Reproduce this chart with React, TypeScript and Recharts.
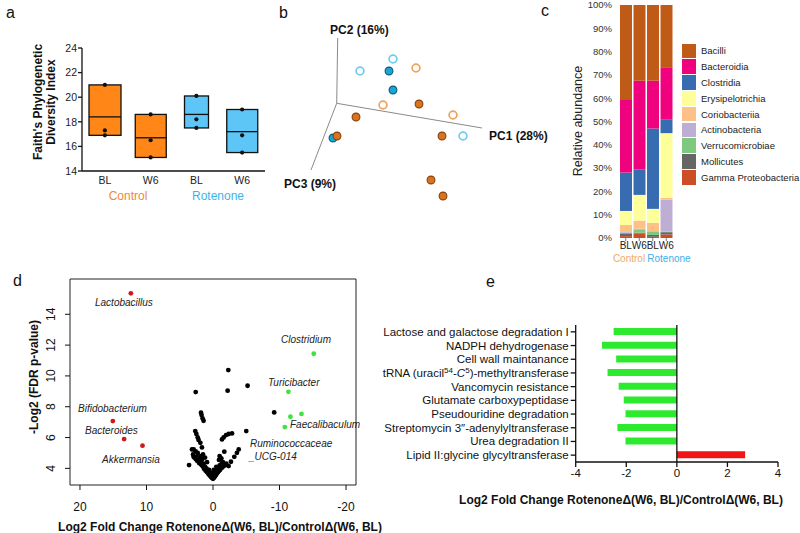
import React from 'react';
import {
  ComposedChart,
  BarChart,
  ScatterChart,
  Bar,
  Scatter,
  XAxis,
  YAxis,
  ReferenceLine,
  ReferenceArea,
  Cell,
} from 'recharts';

const FONT = '"Liberation Sans", Arial, Helvetica, sans-serif';

// ---------- a: Faith's phylogenetic diversity ----------
const pdLabels = ['BL', 'W6', 'BL', 'W6'];
const pdMin = [16.9, 15.1, 17.5, 15.5];
const pdMax = [21.0, 18.6, 20.1, 19.0];
const pdMean = [18.4, 16.7, 18.6, 17.2];
const pdSampleHigh = [21.0, 18.6, 20.1, 19.0];
const pdSampleMid = [17.3, 16.5, 18.2, 16.9];
const pdSampleLow = [16.9, 15.1, 17.5, 15.5];
const pdTicks = [14, 16, 18, 20, 22, 24];

// ---------- b: PCoA (projected PC1/PC2/PC3) ----------
const pcaControlOpen = [
  { x: 79.3, y: 35.3 },
  { x: 46.3, y: -1.7 },
  { x: 116.3, y: -11.7 },
];
const pcaControlFilled = [
  { x: 82.3, y: -0.7 },
  { x: 19.3, y: -13.7 },
  { x: 0.3, y: -32.7 },
  { x: 105.3, y: -32.7 },
  { x: 94.3, y: -76.7 },
  { x: 106.3, y: -92.7 },
];
const pcaRotenoneOpen = [
  { x: 23.3, y: 32.3 },
  { x: 56.3, y: 44.3 },
  { x: 126.3, y: -32.7 },
];
const pcaRotenoneFilled = [
  { x: 52.3, y: 32.3 },
  { x: 56.3, y: 13.3 },
  { x: -3.7, y: -34.7 },
];

// ---------- c: relative abundance ----------
const abundanceSamples = ['BL', 'W6', 'BL', 'W6'];
const gammaProteobacteria = [0.8, 2.0, 0.5, 1.5];
const mollicutes = [1.2, 0.3, 0.8, 1.0];
const verrucomicrobiae = [0.3, 1.2, 1.5, 0.3];
const actinobacteria = [0.3, 0.5, 0.2, 13.7];
const coriobacteriia = [3.0, 3.5, 3.5, 0.8];
const erysipelotrichia = [6.0, 11.0, 6.0, 27.7];
const clostridia = [16.5, 11.0, 34.5, 6.0];
const bacteroidia = [31.5, 38.0, 20.5, 22.0];
const bacilli = [40.4, 32.5, 32.5, 27.0];
const abundanceTicks = [0, 10, 20, 30, 40, 50, 60, 70, 80, 90, 100];

// ---------- d: volcano ----------
const enrichedControl = [
  { name: 'Lactobacillus', x: 12.35, y: 15.36 },
  { name: 'Bifidobacterium', x: 15.06, y: 7.07 },
  { name: 'Bacteroides', x: 13.36, y: 5.9 },
  { name: 'Akkermansia', x: 10.6, y: 5.47 },
];
const enrichedRotenone = [
  { name: 'Clostridium', x: -15.15, y: 11.44 },
  { name: 'Turicibacter', x: -11.34, y: 8.97 },
  { name: 'Faecalibaculum', x: -11.64, y: 7.35 },
  { name: 'Faecalibaculum', x: -13.3, y: 7.53 },
  { name: 'Faecalibaculum', x: -10.8, y: 6.68 },
];
const otherGenera = [
  [2.6, 8.95], [-2.3, 10.38], [-2.2, 9.04], [-5.2, 9.36], [-9.2, 7.63], [-5.0, 6.42],
  [1.8, 7.61], [1.72, 7.46], [1.57, 7.25], [1.42, 7.09],
  [2.67, 6.42], [2.5, 6.23], [2.3, 6.01], [2.17, 5.84], [1.9, 5.66], [1.66, 5.36],
  [2.9, 5.23], [3.6, 4.21], [3.16, 5.23], [2.92, 4.75],
  [-1.35, 5.88], [-1.6, 6.01], [-1.96, 6.16], [-2.35, 6.23], [-2.86, 6.27], [-1.7, 5.08],
  [-3.86, 5.23], [-3.6, 5.01], [-3.2, 4.75], [-2.7, 4.43], [-2.35, 4.15], [-1.0, 4.8], [-1.25, 4.65],
  [3.0, 4.9], [2.8, 4.7], [2.6, 4.6], [2.4, 4.5], [2.5, 4.75], [2.2, 4.6], [2.0, 4.55],
  [2.1, 4.35], [1.9, 4.3], [1.7, 4.2], [1.8, 4.45], [1.5, 4.1], [1.4, 4.3], [1.3, 3.95],
  [1.2, 4.1], [1.1, 3.85], [1.0, 4.0], [0.9, 3.75], [0.8, 3.9], [0.7, 3.65], [0.6, 3.6],
  [0.5, 3.55], [0.4, 3.5], [0.3, 3.45], [0.2, 3.4], [0.1, 3.38], [1.6, 4.6], [1.2, 4.7],
  [2.3, 5.0], [1.9, 4.8], [0.9, 4.4], [1.5, 4.9], [2.6, 5.1],
  [-0.1, 3.38], [-0.2, 3.42], [-0.3, 3.48], [-0.4, 3.55], [-0.5, 3.62], [-0.6, 3.7],
  [-0.75, 3.75], [-0.9, 3.85], [-1.05, 3.9], [-1.2, 4.0], [-1.4, 4.05], [-1.6, 4.15],
  [-1.8, 4.2], [-2.0, 4.3], [-0.8, 4.0], [-0.6, 3.95], [-1.0, 4.2], [-0.4, 3.8],
  [-1.3, 4.3], [-0.2, 3.6], [-0.5, 4.1], [-1.5, 4.4], [-0.9, 4.55],
  [0.3, 3.7], [0.0, 3.6], [0.6, 3.9], [-0.1, 3.9], [0.0, 3.32],
];
const volcanoXTicks = [-20, -10, 0, 10, 20];
const volcanoYTicks = [4, 6, 8, 10, 12, 14];

// ---------- e: predicted pathways ----------
const pathwayNames = [
  'Lactose and galactose degradation I',
  'NADPH dehydrogenase',
  'Cell wall maintanance',
  'tRNA (uracil54-C5)-methyltransferase',
  'Vancomycin resistance',
  'Glutamate carboxypeptidase',
  'Pseudouridine degradation',
  'Streptomycin 3\u2033-adenylyltransferase',
  'Urea degradation II',
  'Lipid II:glycine glycyltransferase',
];
const pathwayLog2FC = [-2.5, -2.96, -2.4, -2.74, -2.3, -2.1, -2.03, -2.35, -2.03, 2.7];
const pathwayTicks = [-4, -2, 0, 2, 4];

// ---------- styles ----------
const BOX_ORANGE = '#FF8617';
const BOX_BLUE = '#5EC6F6';
const boxWidths = [32, 31, 24, 31];

const classColors: Record<string, string> = {
  Bacilli: '#BF5B17',
  Bacteroidia: '#F0027F',
  Clostridia: '#386CB0',
  Erysipelotrichia: '#FFFF99',
  Coriobacteriia: '#FDC086',
  Actinobacteria: '#BEAED4',
  Verrucomicrobiae: '#7FC97F',
  Mollicutes: '#666666',
  'Gamma Proteobacteria': '#CC4E26',
};

const pdData = pdLabels.map((label, i) => ({
  key: i,
  label,
  range: [pdMin[i], pdMax[i]],
  mean: pdMean[i],
  high: pdSampleHigh[i],
  mid: pdSampleMid[i],
  low: pdSampleLow[i],
}));

const abundanceData = abundanceSamples.map((s, i) => ({
  key: i,
  sample: s,
  'Gamma Proteobacteria': gammaProteobacteria[i],
  Mollicutes: mollicutes[i],
  Verrucomicrobiae: verrucomicrobiae[i],
  Actinobacteria: actinobacteria[i],
  Coriobacteriia: coriobacteriia[i],
  Erysipelotrichia: erysipelotrichia[i],
  Clostridia: clostridia[i],
  Bacteroidia: bacteroidia[i],
  Bacilli: bacilli[i],
}));
const stackOrder = [
  'Gamma Proteobacteria', 'Mollicutes', 'Verrucomicrobiae', 'Actinobacteria',
  'Coriobacteriia', 'Erysipelotrichia', 'Clostridia', 'Bacteroidia', 'Bacilli',
];
const legendOrder = [...stackOrder].reverse();

const otherData = otherGenera.map(([x, y]) => ({ x, y }));
const pathwayData = pathwayNames.map((name, i) => ({ name, value: pathwayLog2FC[i] }));

const BoxShape = (props: any) => {
  const { x, y, width, height, payload, index, fill } = props;
  const w = boxWidths[index] ?? width;
  const cx = x + width / 2;
  const top = Math.min(y, y + height);
  const h = Math.abs(height);
  const [lo, hi] = payload.range;
  const meanY = top + (h * (hi - payload.mean)) / (hi - lo);
  return (
    <g>
      <rect x={cx - w / 2} y={top} width={w} height={h} fill={fill} stroke="#111" strokeWidth={1.3} />
      <line x1={cx - w / 2} x2={cx + w / 2} y1={meanY} y2={meanY} stroke="#111" strokeWidth={1.3} />
    </g>
  );
};

const SmallDot = (props: any) => <circle cx={props.cx} cy={props.cy} r={2.1} fill="#111" />;

const pcaDot = (fill: string, stroke: string, sw: number) => (props: any) =>
  <circle cx={props.cx} cy={props.cy} r={3.9} fill={fill} stroke={stroke} strokeWidth={sw} />;

const volcanoDot = (fill: string) => (props: any) =>
  <circle cx={props.cx} cy={props.cy} r={2.4} fill={fill} />;

const RotatedTick = (props: any) => {
  const { x, y, payload } = props;
  const tx = x - 8;
  return (
    <text x={tx} y={y} transform={`rotate(-90, ${tx}, ${y})`} textAnchor="middle"
      fontSize={12} fill="#111" fontFamily={FONT}>
      {payload.value}
    </text>
  );
};

const PathwayTick = (props: any) => {
  const { x, y, payload } = props;
  const common = { x, y, dy: 4, textAnchor: 'end' as const, fontSize: 11.5, fill: '#111', fontFamily: FONT };
  if (payload.value.startsWith('tRNA')) {
    return (
      <text {...common}>
        tRNA (uracil<tspan dy={-4} fontSize={8}>54</tspan>
        <tspan dy={4}>-</tspan>
        <tspan fontStyle="italic">C</tspan>
        <tspan dy={-4} fontSize={8}>5</tspan>
        <tspan dy={4}>)-methyltransferase</tspan>
      </text>
    );
  }
  return <text {...common}>{payload.value}</text>;
};

const abs = (left: number, top: number): React.CSSProperties => ({ position: 'absolute', left, top });

export default function App() {
  return (
    <div style={{ position: 'absolute', left: 0, top: 0, width: 800, height: 533, background: '#fff', overflow: 'hidden', fontFamily: FONT }}>
      {/* a */}
      <div style={abs(0, 0)}>
        <ComposedChart width={280} height={240} data={pdData} margin={{ top: 48, right: 15, bottom: 39, left: 42 }}>
          <XAxis dataKey="key" type="category" interval={0} tickFormatter={(v) => pdLabels[v]}
            axisLine={{ stroke: '#111', strokeWidth: 1.3 }} tickLine={false} tickSize={4} tickMargin={2} height={30}
            tick={{ fontSize: 10.5, fill: '#222', fontFamily: FONT }} />
          <YAxis type="number" domain={[14, 24]} ticks={pdTicks} width={40} interval={0}
            axisLine={{ stroke: '#111', strokeWidth: 1.3 }} tickLine={{ stroke: '#111', strokeWidth: 1.3 }}
            tickSize={4} tickMargin={1} tick={{ fontSize: 10.5, fill: '#222', fontFamily: FONT }} />
          <Bar dataKey="range" barSize={30} shape={BoxShape} isAnimationActive={false}>
            {pdData.map((d) => (
              <Cell key={d.key} fill={d.key < 2 ? BOX_ORANGE : BOX_BLUE} />
            ))}
          </Bar>
          <Scatter dataKey="high" shape={SmallDot} isAnimationActive={false} />
          <Scatter dataKey="mid" shape={SmallDot} isAnimationActive={false} />
          <Scatter dataKey="low" shape={SmallDot} isAnimationActive={false} />
        </ComposedChart>
      </div>

      {/* b */}
      <div style={abs(280, 0)}>
        <ScatterChart width={260} height={240} margin={{ top: 0, right: 0, bottom: 0, left: 0 }}>
          <XAxis type="number" dataKey="x" domain={[-56.7, 203.3]} hide allowDataOverflow />
          <YAxis type="number" dataKey="y" domain={[-136.7, 103.3]} hide allowDataOverflow />
          <ReferenceLine segment={[{ x: 0, y: 0 }, { x: 1, y: 65.3 }]} stroke="#8a8a8a" strokeWidth={1} ifOverflow="visible" />
          <ReferenceLine segment={[{ x: 0, y: 0 }, { x: 145.3, y: -24.7 }]} stroke="#8a8a8a" strokeWidth={1} ifOverflow="visible" />
          <ReferenceLine segment={[{ x: 0, y: 0 }, { x: -25.7, y: -66.7 }]} stroke="#8a8a8a" strokeWidth={1} ifOverflow="visible" />
          <Scatter data={pcaRotenoneOpen} shape={pcaDot('#fff', '#6DCDF0', 1.7)} isAnimationActive={false} />
          <Scatter data={pcaControlOpen} shape={pcaDot('#fff', '#EFA25A', 1.7)} isAnimationActive={false} />
          <Scatter data={pcaRotenoneFilled} shape={pcaDot('#17A6D6', '#0B5A78', 1.1)} isAnimationActive={false} />
          <Scatter data={pcaControlFilled} shape={pcaDot('#D9731E', '#86410F', 1.1)} isAnimationActive={false} />
        </ScatterChart>
      </div>

      {/* c */}
      <div style={abs(540, 0)}>
        <BarChart width={260} height={300} data={abundanceData} barCategoryGap={1}
          margin={{ top: 5, right: 127, bottom: 42, left: 29 }}>
          <XAxis dataKey="key" type="category" interval={0} tickFormatter={(v) => abundanceSamples[v]}
            axisLine={false} tickLine={{ stroke: '#777' }} tickSize={3} tickMargin={1} height={20}
            tick={{ fontSize: 10, fill: '#222', fontFamily: FONT }} />
          <YAxis type="number" domain={[0, 100]} ticks={abundanceTicks} width={50} interval={0}
            tickFormatter={(v) => `${v}%`} axisLine={false} tickLine={false} tickSize={0} tickMargin={7}
            tick={{ fontSize: 9.5, fill: '#333', fontFamily: FONT }} />
          {stackOrder.map((k) => (
            <Bar key={k} dataKey={k} stackId="a" fill={classColors[k]} isAnimationActive={false} />
          ))}
        </BarChart>
      </div>
      <div style={{ ...abs(682, 43), fontSize: 9.5, color: '#222' }}>
        {legendOrder.map((k) => (
          <div key={k} style={{ display: 'flex', alignItems: 'center', height: 15.8 }}>
            <div style={{ width: 13.5, height: 14.5, background: classColors[k] }} />
            <span style={{ marginLeft: 5.5, whiteSpace: 'nowrap' }}>{k}</span>
          </div>
        ))}
      </div>

      {/* d */}
      <div style={abs(0, 250)}>
        <ScatterChart width={380} height={283} margin={{ top: 29, right: 24, bottom: 18, left: 30 }}>
          <XAxis type="number" dataKey="x" domain={[-21.5, 21.5]} reversed ticks={volcanoXTicks} interval={0}
            allowDataOverflow axisLine={false} tickLine={{ stroke: '#111' }} tickSize={5} tickMargin={12} height={30}
            tick={{ fontSize: 12, fill: '#111', fontFamily: FONT }} />
          <YAxis type="number" dataKey="y" domain={[2.92, 16.29]} ticks={volcanoYTicks} interval={0}
            allowDataOverflow axisLine={false} tickLine={{ stroke: '#111' }} tickSize={5} tickMargin={2} width={40}
            tick={RotatedTick} />
          <ReferenceArea x1={-21.5} x2={21.5} y1={2.92} y2={16.29} fill="none" stroke="#222" strokeWidth={1} />
          <Scatter data={otherData} shape={volcanoDot('#000')} isAnimationActive={false} />
          <Scatter data={enrichedControl} shape={volcanoDot('#D01818')} isAnimationActive={false} />
          <Scatter data={enrichedRotenone} shape={volcanoDot('#3FE23F')} isAnimationActive={false} />
        </ScatterChart>
      </div>

      {/* e */}
      <div style={abs(370, 290)}>
        <BarChart width={430} height={243} data={pathwayData} layout="vertical"
          margin={{ top: 35, right: 22, bottom: 46, left: 5 }}>
          <XAxis type="number" domain={[-4, 4]} ticks={pathwayTicks} interval={0}
            axisLine={{ stroke: '#111', strokeWidth: 1.3 }} tickLine={{ stroke: '#111', strokeWidth: 1.3 }}
            tickSize={5} tickMargin={2} height={25} tick={{ fontSize: 11.5, fill: '#111', fontFamily: FONT }} />
          <YAxis type="category" dataKey="name" width={200.7} interval={0}
            axisLine={{ stroke: '#111', strokeWidth: 1.3 }} tickLine={{ stroke: '#111', strokeWidth: 1.3 }}
            tickSize={5} tickMargin={2} tick={PathwayTick} />
          <Bar dataKey="value" barSize={7} isAnimationActive={false}>
            {pathwayData.map((d) => (
              <Cell key={d.name} fill={d.value < 0 ? '#2EEA2E' : '#F01414'} />
            ))}
          </Bar>
          <ReferenceLine x={0} stroke="#111" strokeWidth={1.3} />
        </BarChart>
      </div>

      {/* text annotations */}
      <svg width={800} height={533} style={{ position: 'absolute', left: 0, top: 0, pointerEvents: 'none' }} fontFamily={FONT}>
        <g fontSize={16} fill="#111">
          <text x={6} y={18}>a</text>
          <text x={279} y={18}>b</text>
          <text x={541} y={16}>c</text>
          <text x={13} y={286}>d</text>
          <text x={486} y={287}>e</text>
        </g>
        {/* a */}
        <g fontSize={12} fontWeight="bold" fill="#111" textAnchor="middle">
          <text transform="translate(42,102) rotate(-90)">Faith's Phylogenetic</text>
          <text transform="translate(55,102) rotate(-90)">Diversity Index</text>
        </g>
        <text x={128} y={200} fontSize={12} fill="#F08A36" textAnchor="middle">Control</text>
        <text x={218} y={200} fontSize={12} fill="#3DB4E8" textAnchor="middle">Rotenone</text>
        {/* b */}
        <g fontSize={12} fontWeight="bold" fill="#111">
          <text x={330} y={34}>PC2 (16%)</text>
          <text x={489} y={139.5}>PC1 (28%)</text>
          <text x={284} y={187.5}>PC3 (9%)</text>
        </g>
        {/* c */}
        <text transform="translate(582,121) rotate(-90)" fontSize={12.5} fill="#222" textAnchor="middle">Relative abundance</text>
        <text x={629} y={262} fontSize={10} fill="#F0A868" textAnchor="middle">Control</text>
        <text x={669} y={262} fontSize={10} fill="#3BB0E8" textAnchor="middle">Rotenone</text>
        {/* d */}
        <text transform="translate(38,377) rotate(-90)" fontSize={12} fontWeight="bold" fill="#111" textAnchor="middle">-Log2 (FDR p-value)</text>
        <g fontSize={10} fontStyle="italic" fill="#222">
          <text x={95} y={306}>Lactobacillus</text>
          <text x={281} y={343}>Clostridium</text>
          <text x={268} y={386}>Turicibacter</text>
          <text x={290} y={428}>Faecalibaculum</text>
          <text x={250} y={447}>Ruminococcaceae</text>
          <text x={249} y={460}>_UCG-014</text>
          <text x={78} y={412}>Bifidobacterium</text>
          <text x={85} y={434}>Bacteroides</text>
          <text x={102} y={463}>Akkermansia</text>
        </g>
        <text x={220} y={531} fontSize={12} fontWeight="bold" fill="#111" textAnchor="middle">
          Log2 Fold Change Rotenone{'\u0394'}(W6, BL)/Control{'\u0394'}(W6, BL)
        </text>
        {/* e */}
        <text x={621} y={504} fontSize={12} fontWeight="bold" fill="#111" textAnchor="middle">
          Log2 Fold Change Rotenone{'\u0394'}(W6, BL)/Control{'\u0394'}(W6, BL)
        </text>
      </svg>
    </div>
  );
}
